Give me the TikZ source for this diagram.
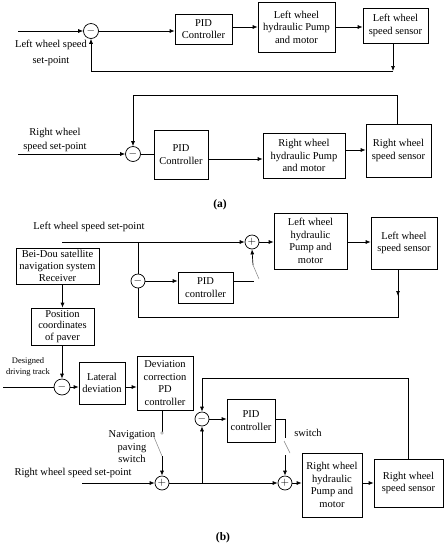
\documentclass[tikz,border=0pt]{standalone}
\usepackage{fontspec}
\setmainfont{Liberation Serif}
\usetikzlibrary{arrows.meta,calc}
\begin{document}
\begin{tikzpicture}[x=1pt,y=-1pt,
 every node/.style={font=\fontsize{10.5}{12.5}\selectfont},
 blk/.style={draw, line width=0.7pt, align=center, inner sep=0.5pt},
 sumc/.style={draw, circle, line width=0.7pt, minimum size=15pt, inner sep=0pt},
 ln/.style={line width=0.7pt},
 arr/.style={line width=0.7pt, -{Latex[length=5pt,width=4pt]}},
 sw/.style={draw=gray, line width=0.5pt},
 lbl/.style={align=center, inner sep=0pt},
 captxt/.style={font=\bfseries\fontsize{11.5}{13}\selectfont, inner sep=0pt}]
\useasboundingbox (0,0) rectangle (445,550);
% ---------- (a) left wheel
\node[sumc] (sA1) at (91,31) {$-$};
\node[blk, minimum width=57pt, minimum height=30pt] (pidA) at (203.5,29) {PID\\Controller};
\node[blk, minimum width=77pt, minimum height=50pt] (hydA) at (296.5,27) {Left wheel\\hydraulic Pump\\and motor};
\node[blk, minimum width=65pt, minimum height=35pt] (senA) at (395.5,25.5) {Left wheel\\speed sensor};
\coordinate (inA) at (18,31);
\draw[arr] (inA) -- (sA1);
\draw[arr] (sA1.east) -- (sA1.east -| pidA.west);
\draw[arr] (pidA.east |- hydA) -- (hydA.west);
\draw[arr] (hydA.east) -- (hydA.east -| senA.west);
\coordinate (fA1) at (393,71);
\draw[arr] (senA.south -| fA1) -- (fA1);
\draw[arr] (fA1) -- (fA1 -| sA1) -- (sA1.south);
\node[lbl, font=\fontsize{10.5}{16}\selectfont] (lA1) at (51,53) {Left wheel speed\\set-point};
% ---------- (a) right wheel
\node[sumc] (sA2) at (133,154) {$-$};
\node[blk, minimum width=54pt, minimum height=49pt] (pidA2) at (181,154.5) {PID\\Controller};
\node[blk, minimum width=82pt, minimum height=45pt] (hydA2) at (304,155.5) {Right wheel\\hydraulic Pump\\and motor};
\node[blk, minimum width=65pt, minimum height=53pt] (senA2) at (398.5,150.5) {Right wheel\\speed sensor};
\coordinate (inA2) at (18,154);
\draw[arr] (inA2) -- (sA2);
\draw[ln] (sA2) -- (sA2 -| pidA2.west);
\coordinate (pA2o) at ([yshift=-4.5pt]pidA2.east);
\draw[arr] (pA2o) -- (pA2o -| hydA2.west);
\coordinate (hA2o) at ([yshift=5.5pt]hydA2.east);
\draw[arr] (hA2o) -- (hA2o -| senA2.west);
\coordinate (fA2) at (397,95);
\draw[arr] (senA2.north -| fA2) -- (fA2) -- (fA2 -| sA2) -- (sA2.north);
\node[lbl, font=\fontsize{10.5}{14}\selectfont] (lA2) at (55,140) {Right wheel\\speed set-point};
\node[captxt] (capa) at (220,205) {(a)};
% ---------- (b) left wheel
\node[lbl] (tLB) at (89,227) {Left wheel speed set-point};
\coordinate (inB1) at (62,242);
\node[sumc, minimum size=14pt] (sB1) at (252,242) {$+$};
\coordinate (jB1) at (138,242);
\node[sumc, minimum size=14pt] (sB2) at (138,281) {$-$};
\node[blk, minimum width=73pt, minimum height=56pt] (hydB1) at (310.5,241) {Left wheel\\hydraulic\\Pump and\\motor};
\node[blk, minimum width=66pt, minimum height=52pt] (senB1) at (404,243) {Left wheel\\speed sensor};
\node[blk, minimum width=55pt, minimum height=31pt] (pidB1) at (205.5,287.5) {PID\\controller};
\draw[arr] (inB1) -- (sB1);
\draw[ln] (jB1) -- (sB2);
\draw[arr] (sB1) -- (sB1 -| hydB1.west);
\draw[arr] (sB1 -| hydB1.east) -- (sB1 -| senB1.west);
\coordinate (fB1) at (398,317);
\coordinate (fB1t) at (senB1.south -| fB1);
\draw[ln] (fB1t) -- (fB1) -- (fB1 -| sB2) -- (sB2);
\draw[arr] (fB1t) -- ($(fB1t)!0.56!(fB1)$);
\draw[arr] (sB2) -- (sB2 -| pidB1.west);
\coordinate (swB1a) at (254,281);
\draw[ln] (pidB1.east |- swB1a) -- (swB1a);
\coordinate (swB1c) at (259,279);
\coordinate (swB1b) at (253,265);
\draw[sw] (swB1c) -- (swB1b);
\draw[arr] (swB1b) -- (sB1.south);
% ---------- (b) navigation
\node[blk, minimum width=83pt, minimum height=36pt, font=\fontsize{10.5}{11.8}\selectfont] (bd) at (57.5,266) {Bei-Dou satellite\\navigation system\\Receiver};
\node[blk, minimum width=63pt, minimum height=37pt, font=\fontsize{10.5}{11.8}\selectfont] (pos) at (62.5,326.5) {Position\\coordinates\\of paver};
\draw[arr] (pos.north |- bd.south) -- (pos.north);
\node[sumc, minimum size=16pt] (sB3) at (62,387) {$-$};
\draw[arr] (pos.south -| sB3) -- (sB3);
\node[lbl, font=\fontsize{8.5}{10.5}\selectfont] (tdt) at (28,367) {Designed\\driving track};
\coordinate (inB3) at (3,387);
\draw[ln] (inB3) -- (sB3);
\node[blk, minimum width=46pt, minimum height=42pt] (lat) at (102,383) {Lateral\\deviation};
\node[blk, minimum width=56pt, minimum height=54pt] (dev) at (165,383) {Deviation\\correction\\PD\\controller};
\draw[arr] (sB3) -- (sB3 -| lat.west);
\draw[arr] (sB3 -| lat.east) -- (sB3 -| dev.west);
\coordinate (nsw) at (162,433);
\draw[ln] (dev.south -| nsw) -- (nsw);
\draw[gray, line width=0.4pt, fill=white] (nsw) circle (1.4pt);
\coordinate (nswc) at (154,437);
\coordinate (nswb) at (162,456);
\draw[sw] (nswc) -- (nswb);
\node[sumc, minimum size=14pt] (sB4) at (162,483) {$+$};
\draw[arr] (nswb) -- (sB4);
\node[lbl] (tnps) at (132,447) {Navigation\\paving\\switch};
% ---------- (b) right wheel
\node[lbl] (tRB) at (73,473) {Right wheel speed set-point};
\coordinate (inB4) at (82,483);
\draw[arr] (inB4) -- (sB4);
\node[sumc, minimum size=14pt] (sB5) at (285,483) {$+$};
\draw[arr] (sB4) -- (sB5);
\coordinate (jB4) at (202,483);
\node[sumc, minimum size=14pt] (sB6) at (202,419) {$-$};
\draw[arr] (jB4) -- (sB6);
\node[blk, minimum width=48pt, minimum height=43pt] (pidB2) at (251,420.5) {PID\\controller};
\draw[arr] (sB6) -- (sB6 -| pidB2.west);
\coordinate (swB2a) at (285,438);
\draw[ln] (sB6 -| pidB2.east) -- (sB6 -| swB2a) -- (swB2a);
\coordinate (swB2c) at (284,441);
\coordinate (swB2d) at (290,453);
\draw[sw] (swB2c) -- (swB2d);
\coordinate (swB2b) at (285,455);
\draw[arr] (swB2b) -- (sB5);
\node[lbl] (tsw) at (308,433) {switch};
\node[blk, minimum width=60pt, minimum height=64pt] (hydB2) at (332,485) {Right wheel\\hydraulic\\Pump and\\motor};
\node[blk, minimum width=69pt, minimum height=48pt] (senB2) at (408.5,483) {Right wheel\\speed sensor};
\draw[arr] (sB5) -- (sB5 -| hydB2.west);
\draw[arr] (sB5 -| hydB2.east) -- (sB5 -| senB2.west);
\coordinate (fB2) at (408,378);
\draw[arr] (senB2.north -| fB2) -- (fB2) -- (fB2 -| sB6) -- (sB6);
\node[captxt] (capb) at (223,538) {(b)};
\end{tikzpicture}
\end{document}
